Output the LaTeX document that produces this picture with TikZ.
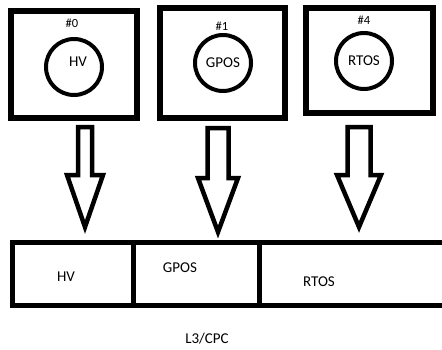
\documentclass[tikz,border=0pt]{standalone}
\usepackage{fontspec}
\setmainfont{Carlito}
\begin{document}
\begin{tikzpicture}[x=1pt,y=-1pt,
  cpubox/.style={draw,line width=5.5pt,inner sep=0pt},
  oscircle/.style={draw,circle,line width=4pt,inner sep=0pt,minimum size=56pt},
  cell/.style={draw,line width=5pt},
  lbl/.style={inner sep=0pt,font=\fontsize{15}{15}\selectfont},
  idlbl/.style={inner sep=0pt,font=\fontsize{12.5}{12.5}\selectfont},
  bigarrow/.style={draw,line width=4.5pt,fill=white,line join=miter}]
\useasboundingbox (0,0) rectangle (442,349);
\clip (0,0) rectangle (442,349);
\fill[white] (0,0) rectangle (442,349);
% core boxes
\draw[cpubox] (11,11) rectangle (137,118);
\draw[cpubox] (160,8) rectangle (285,118);
\draw[cpubox] (306,8) rectangle (433,113);
\node[idlbl] (id0) at (72,23) {\#0};
\node[idlbl] (id1) at (222,26) {\#1};
\node[idlbl] (id4) at (364,20) {\#4};
\node[oscircle] (c0) at (74,67) {};
\node[oscircle] (c1) at (223,63) {};
\node[oscircle] (c4) at (364,61) {};
\node[lbl] at (78,62) {HV};
\node[lbl] at (c1) {GPOS};
\node[lbl] at (c4) {RTOS};
% arrows
\newcommand\bigdownarrow[6]{%
  \draw[bigarrow] (#1-#3,#2) -- (#1+#3,#2) -- (#1+#3,#4) -- (#1+#5,#4) -- (#1,#6)
    -- (#1-#5,#4) -- (#1-#3,#4) -- cycle;}
\bigdownarrow{85}{127}{7}{175}{18}{227}
\bigdownarrow{218}{128}{10.5}{178}{20}{232}
\bigdownarrow{359}{127}{11.5}{175}{22}{227}
% memory bar
\draw[cell] (12.5,242.5) rectangle (133.5,305.5);
\draw[cell] (133.5,242.5) rectangle (259.5,305.5);
\draw[cell] (259.5,242.5) rectangle (450,305.5);
\node[lbl] (m0) at (66,277) {HV};
\node[lbl] (m1) at (180,268) {GPOS};
\node[lbl] (m4) at (319,282) {RTOS};
\node[lbl] (l3) at (207,339) {L3/CPC};
\end{tikzpicture}
\end{document}
